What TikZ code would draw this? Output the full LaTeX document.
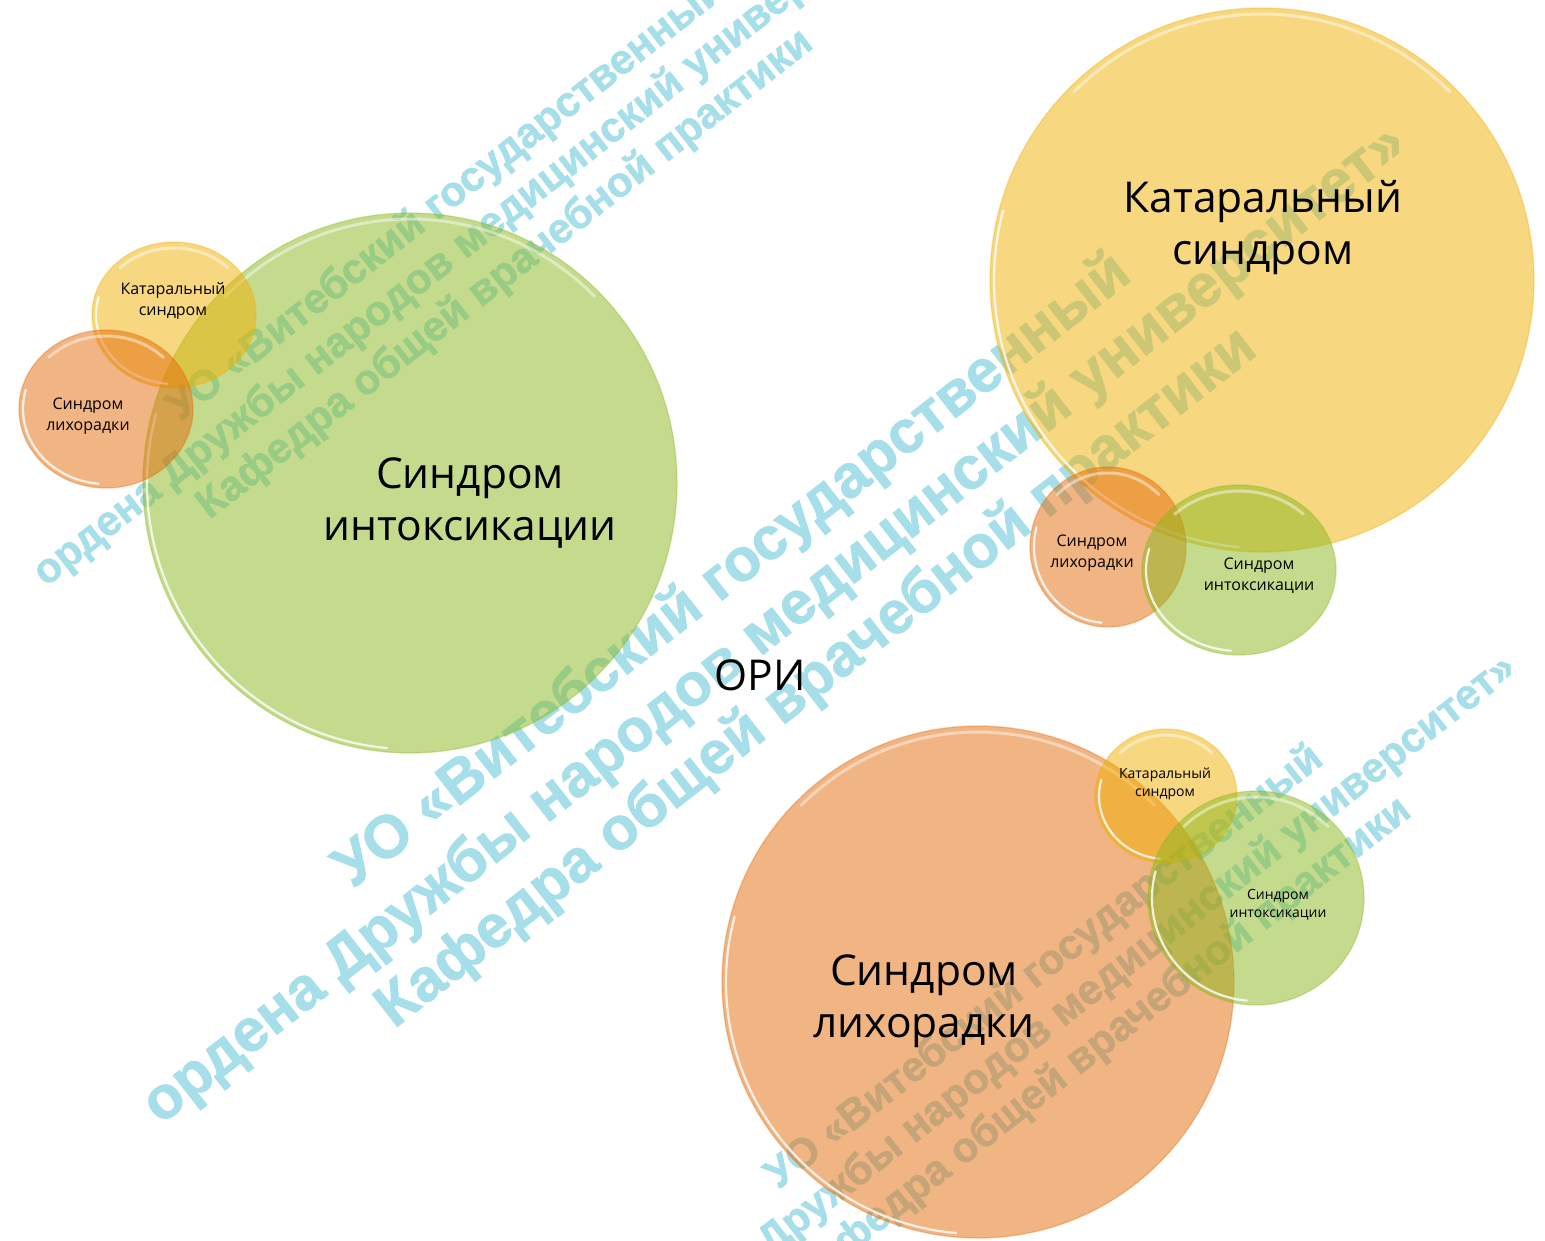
\documentclass[tikz,border=0pt]{standalone}
\usepackage{fontspec}
\setmainfont{Open Sans}
\newfontfamily\wmfont{Liberation Sans}[BoldFeatures={FakeBold=1.3}]
\usetikzlibrary{shapes.geometric}
\definecolor{bOr}{RGB}{229,106,8}
\definecolor{bYe}{RGB}{240,176,2}
\definecolor{bGr}{RGB}{139,184,30}
\definecolor{wmblue}{RGB}{166,223,234}
\tikzset{
  bubble/.style={ellipse, inner sep=0pt, fill opacity=0.5, draw opacity=0.35, line width=1.3pt},
  bigtxt/.style={align=center, inner sep=0pt, text=black, font=\fontsize{42.5}{52}\selectfont},
  midtxt/.style={align=center, inner sep=0pt, text=black, font=\fontsize{16}{21}\selectfont},
  smalltxt/.style={align=center, inner sep=0pt, text=black, font=\fontsize{14}{18}\selectfont},
  wmbig/.style={align=center, inner sep=0pt, rotate=38, text=wmblue, font=\wmfont\bfseries\fontsize{60}{68}\selectfont},
  wmsmall/.style={align=center, inner sep=0pt, rotate=38, text=wmblue, font=\wmfont\bfseries\fontsize{42}{47.6}\selectfont},
  shine/.style={white, opacity=0.8, line width=2.2pt, line cap=round},
  gloss/.style={white, opacity=0.45, line width=3pt, line cap=round}
}
\newcommand\mybubble[6]{%
  \node[bubble, fill=#6, draw=#6, minimum width=2*#4, minimum height=2*#5] (#1) at (#2,#3) {};
  \draw[shine] (#2,#3) ++(95:{#4-4} and {#5-4}) arc[start angle=95, end angle=195, x radius={#4-4}, y radius={#5-4}];
  \draw[gloss] (#2,#3) ++(225:{#4-6} and {#5-6}) arc[start angle=225, end angle=315, x radius={#4-6}, y radius={#5-6}];
}
\begin{document}
\begin{tikzpicture}[x=1pt,y=-1pt]
\useasboundingbox (0,0) rectangle (1545,1240);
\clip (0,0) rectangle (1545,1240);
\fill[white] (0,0) rectangle (1545,1240);
% watermark
\node[wmsmall] (wm1) at (476,237) {УО «Витебский государственный\\ордена Дружбы народов медицинский университет»\\Кафедра общей врачебной практики};
\node[wmbig] (wm2) at (775,625) {УО «Витебский государственный\\ордена Дружбы народов медицинский университет»\\Кафедра общей врачебной практики};
\node[wmsmall] (wm3) at (1074,1005) {УО «Витебский государственный\\ордена Дружбы народов медицинский университет»\\Кафедра общей врачебной практики};
% group 1
\mybubble{c1big}{410}{483}{267}{270}{bGr}
\mybubble{c1ye}{174}{315}{82}{73}{bYe}
\mybubble{c1or}{106}{409}{87}{79}{bOr}
% group 2
\mybubble{c2big}{1262}{280}{272}{272}{bYe}
\mybubble{c2or}{1108}{547}{78}{80}{bOr}
\mybubble{c2gr}{1239}{570}{97}{85}{bGr}
% group 3
\mybubble{c3big}{978}{982}{256}{256}{bOr}
\mybubble{c3ye}{1166}{796}{71}{67}{bYe}
\mybubble{c3gr}{1256}{898}{108}{107}{bGr}
% labels
\node[bigtxt] (t1big) at (470,503) {Синдром\\интоксикации};
\node[midtxt] (t1ye) at (173,301) {Катаральный\\синдром};
\node[midtxt] (t1or) at (88,416) {Синдром\\лихорадки};
\node[bigtxt] (ori) at (760,675) {ОРИ};
\node[bigtxt] (t2big) at (1263,228) {Катаральный\\синдром};
\node[midtxt] (t2or) at (1092,553) {Синдром\\лихорадки};
\node[midtxt] (t2gr) at (1259,576) {Синдром\\интоксикации};
\node[smalltxt] (t3ye) at (1165,784) {Катаральный\\синдром};
\node[smalltxt] (t3gr) at (1278,905) {Синдром\\интоксикации};
\node[bigtxt] (t3big) at (924,1001) {Синдром\\лихорадки};
\end{tikzpicture}
\end{document}
